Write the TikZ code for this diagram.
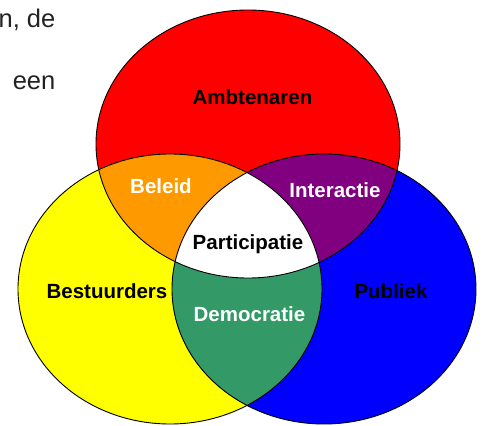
\documentclass[tikz,border=0pt]{standalone}
\usepackage{fontspec}
\setmainfont{Liberation Sans}
\definecolor{redc}{HTML}{FF0000}
\definecolor{yellowc}{HTML}{FFFF00}
\definecolor{bluec}{HTML}{0000FF}
\definecolor{orangec}{HTML}{FF9900}
\definecolor{purplec}{HTML}{800080}
\definecolor{greenc}{HTML}{339966}
\definecolor{pagetext}{HTML}{222222}
\tikzset{
  lbl/.style={font=\fontsize{20.5}{24}\selectfont\bfseries, inner sep=0pt},
  darklbl/.style={lbl, text=black},
  lightlbl/.style={lbl, text=white},
  pagelbl/.style={font=\fontsize{25.5}{30}\selectfont, text=pagetext, inner sep=0pt, anchor=base east},
  outline/.style={draw=black, line width=0.9pt}
}
\def\redpath{(248,144) ellipse [x radius=152pt, y radius=134pt]}
\def\yelpath{(170,289) ellipse [x radius=152pt, y radius=135pt]}
\def\blupath{(324,289) ellipse [x radius=152pt, y radius=135pt]}
\begin{document}
\begin{tikzpicture}[x=1pt,y=-1pt]
\useasboundingbox (0,0) rectangle (483,426);
\clip (0,0) rectangle (483,426);
\fill[white] (0,0) rectangle (483,426);
% base circles
\fill[redc] \redpath;
\fill[yellowc] \yelpath;
\fill[bluec] \blupath;
% pairwise overlaps
\begin{scope}\clip \redpath; \fill[orangec] \yelpath;\end{scope}
\begin{scope}\clip \redpath; \fill[purplec] \blupath;\end{scope}
\begin{scope}\clip \yelpath; \fill[greenc] \blupath;\end{scope}
% triple overlap
\begin{scope}\clip \redpath; \clip \yelpath; \fill[white] \blupath;\end{scope}
% outlines
\draw[outline] \redpath;
\draw[outline] \yelpath;
\draw[outline] \blupath;
% labels
\node[darklbl] (amb) at (252.5,97) {Ambtenaren};
\node[lightlbl] (bel) at (161,186) {Beleid};
\node[lightlbl] (int) at (335,190) {Interactie};
\node[darklbl] (par) at (248,244) {Participatie};
\node[darklbl] (bes) at (107,291) {Bestuurders};
\node[darklbl] (pub) at (391,291) {Publiek};
\node[lightlbl] (dem) at (249.5,314) {Democratie};
% cut-off page text
\node[pagelbl] (t1) at (55.5,27) {n, de};
\node[pagelbl] (t2) at (55.5,89) {een};
\end{tikzpicture}
\end{document}
